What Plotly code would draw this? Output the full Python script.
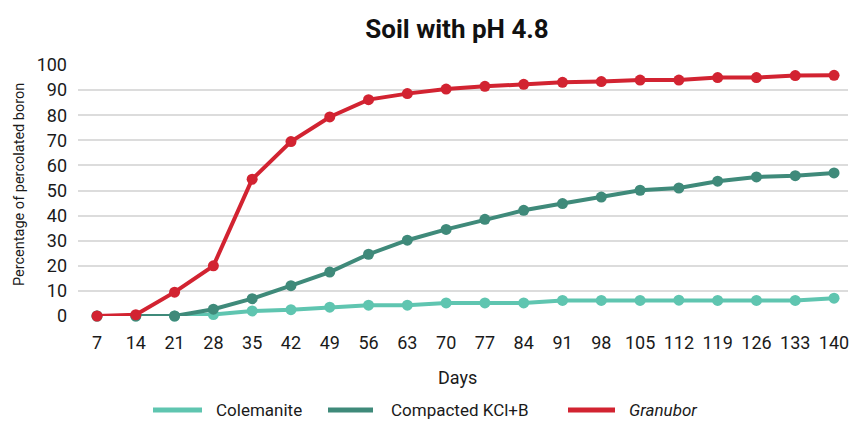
import plotly.graph_objects as go

days = [7, 14, 21, 28, 35, 42, 49, 56, 63, 70, 77, 84, 91, 98, 105, 112, 119, 126, 133, 140]
colemanite = [0, 0, 0, 0.6, 2.0, 2.5, 3.5, 4.3, 4.3, 5.2, 5.2, 5.2, 6.2, 6.2, 6.2, 6.3, 6.2, 6.2, 6.2, 7.1]
compacted = [0, 0, 0, 2.7, 6.9, 12.1, 17.5, 24.6, 30.2, 34.5, 38.5, 42.1, 44.8, 47.4, 50.1, 51.0, 53.7, 55.4, 55.9, 57.0]
granubor = [0, 0.5, 9.5, 20.0, 54.5, 69.5, 79.3, 86.2, 88.6, 90.4, 91.5, 92.3, 93.1, 93.4, 94.0, 94.0, 95.0, 95.0, 95.8, 95.9]
y_ticks = [0, 10, 20, 30, 40, 50, 60, 70, 80, 90, 100]
series_names = ["Colemanite", "Compacted KCl+B", "<i>Granubor</i>"]
series_colors = ["#5fc5b0", "#3f8a7a", "#d22331"]

FONT = "Roboto, 'Open Sans', sans-serif"
TXT = "#1a1a1a"
W, H = 851, 422
ML, MR, MT, MB = 78, 3, 65, 106
PW = W - ML - MR
PH = H - MT - MB

def px_x(px):
    return (px - ML) / PW

def px_y(py):
    return (H - MB - py) / PH

x_labels = [str(d) for d in days]

fig = go.Figure()
for name, vals, col in zip(series_names, [colemanite, compacted, granubor], series_colors):
    fig.add_trace(go.Scatter(
        x=x_labels, y=vals, name=name, mode="lines+markers",
        line=dict(color=col, width=4), marker=dict(color=col, size=11),
        cliponaxis=False, showlegend=False,
    ))

# manual legend (line swatch + label)
legend_line_px = [(153, 202), (328, 373), (568, 615)]
legend_text_px = [214, 389, 627]
legend_y = px_y(410)
shapes = []
annotations = []
for (x0, x1), tx, name, col in zip(legend_line_px, legend_text_px, series_names, series_colors):
    shapes.append(dict(type="line", xref="paper", yref="paper",
                       x0=px_x(x0), x1=px_x(x1), y0=legend_y, y1=legend_y,
                       line=dict(color=col, width=5)))
    annotations.append(dict(text=name, xref="paper", yref="paper", x=px_x(tx), y=legend_y,
                            xanchor="left", yanchor="middle", showarrow=False,
                            font=dict(family=FONT, size=17, color=TXT)))

annotations.append(dict(text="Days", xref="paper", yref="paper", x=px_x(457), y=px_y(377),
                        xanchor="center", yanchor="middle", showarrow=False,
                        font=dict(family=FONT, size=18, color=TXT)))
annotations.append(dict(text="Percentage of percolated boron", xref="paper", yref="paper",
                        x=px_x(19), y=px_y(185), textangle=-90,
                        xanchor="center", yanchor="middle", showarrow=False,
                        font=dict(family=FONT, size=14.5, color=TXT)))

fig.update_layout(
    width=W, height=H,
    margin=dict(l=ML, r=MR, t=MT, b=MB),
    paper_bgcolor="white", plot_bgcolor="white",
    font=dict(family=FONT, size=17, color=TXT),
    title=dict(text="<b>Soil with pH 4.8</b>", x=457 / W, xref="container", xanchor="center",
               y=1 - 29 / H, yref="container", yanchor="middle",
               font=dict(family=FONT, size=26, color="#111111")),
    showlegend=False,
    shapes=shapes,
    annotations=annotations,
)
fig.update_xaxes(
    type="category", range=[-0.49, 19.36], automargin=False,
    showgrid=False, showline=False, zeroline=False, ticks="", ticklabelstandoff=14,
    tickfont=dict(family=FONT, size=18, color=TXT),
)
fig.update_yaxes(
    range=[0, 100], tickvals=y_ticks, automargin=False,
    showgrid=True, gridcolor="#dcdcdc", gridwidth=2,
    zeroline=False, showline=False, ticks="", ticklabelstandoff=10,
    tickfont=dict(family=FONT, size=18, color=TXT),
)
fig.write_html("out.html")
